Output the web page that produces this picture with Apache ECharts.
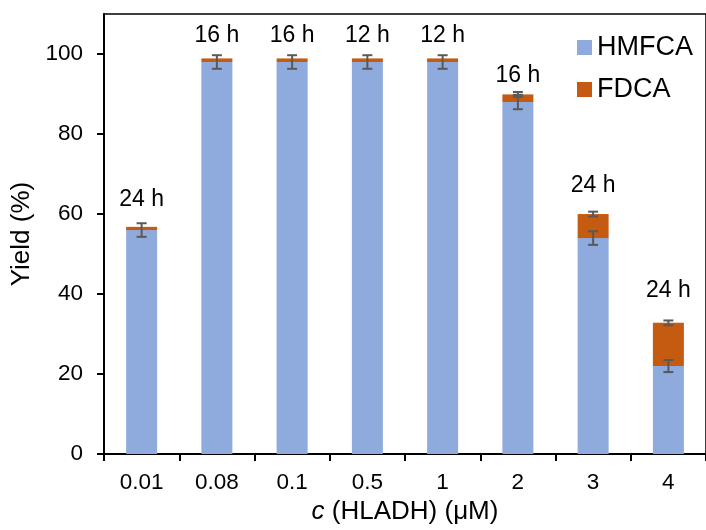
<!DOCTYPE html>
<html><head><meta charset="utf-8">
<script src="https://cdn.jsdelivr.net/npm/echarts@6/dist/echarts.min.js"></script>
<style>html,body{margin:0;padding:0;background:#fff}#c{width:706px;height:530px}</style>
</head><body><div id="c"></div>
<script>
var categories = ['0.01', '0.08', '0.1', '0.5', '1', '2', '3', '4'];
var hmfca = [56, 98, 98, 98, 98, 88, 54, 22];
var fdca = [0.8, 0.9, 0.9, 0.9, 0.9, 1.9, 6, 10.8];
var hmfcaErr = [1.7, 1.7, 1.7, 1.7, 1.7, 1.8, 1.7, 1.5];
var totalErr = [null, null, null, null, null, 0.6, 0.6, 0.6];
var times = ['24 h', '16 h', '16 h', '12 h', '12 h', '16 h', '24 h', '24 h'];
var yTicks = [0, 20, 40, 60, 80, 100];

var labelGap = [16, 11, 11, 11, 11, 7, 17, 21];
var FONT = 'Liberation Sans, Arial, sans-serif';

var errData = [];
for (var i = 0; i < categories.length; i++) {
  errData.push([i, hmfca[i] - hmfcaErr[i], hmfca[i] + hmfcaErr[i]]);
  if (totalErr[i] != null) {
    var t = hmfca[i] + fdca[i];
    errData.push([i, t - totalErr[i], t + totalErr[i]]);
  }
}

var fdcaData = fdca.map(function (v, i) {
  return { value: v, label: { show: true, position: 'top', distance: labelGap[i], formatter: times[i] } };
});

var chart = echarts.init(document.getElementById('c'));
chart.setOption({
  animation: false,
  textStyle: { fontFamily: FONT },
  grid: { left: 104, right: -2, top: 14, bottom: 72, show: true, borderColor: '#000', borderWidth: 1.5, backgroundColor: 'transparent' },
  legend: {
    orient: 'vertical', left: 572, top: 29, itemWidth: 15, itemHeight: 15, itemGap: 15,
    textStyle: { fontSize: 27, color: '#000', fontFamily: FONT },
    data: [{ name: 'HMFCA', icon: 'rect' }, { name: 'FDCA', icon: 'rect' }]
  },
  xAxis: {
    type: 'category', data: categories,
    axisLine: { lineStyle: { color: '#000', width: 2 } },
    axisTick: { show: true, inside: false, length: 7, lineStyle: { color: '#000', width: 2 } },
    axisLabel: { fontSize: 22.5, color: '#000', margin: 17, fontFamily: FONT },
    name: '{i|c} (HLADH) (μM)', nameLocation: 'middle', nameGap: 43,
    nameTextStyle: { fontSize: 26, color: '#000', fontFamily: FONT, rich: { i: { fontStyle: 'italic', fontSize: 26, fontFamily: FONT } } }
  },
  yAxis: {
    type: 'value', min: 0, max: 110, interval: 10,
    splitLine: { show: false },
    axisLine: { show: true, lineStyle: { color: '#000', width: 2 } },
    axisTick: { show: true, inside: false, length: 7, lineStyle: { color: '#000', width: 2 }, customValues: yTicks },
    axisLabel: { fontSize: 22.5, color: '#000', margin: 21, fontFamily: FONT, customValues: yTicks },
    name: 'Yield (%)', nameLocation: 'middle', nameGap: 62,
    nameTextStyle: { fontSize: 26, color: '#000', fontFamily: FONT }
  },
  series: [
    { name: 'HMFCA', type: 'bar', stack: 'y', barWidth: 31, data: hmfca, itemStyle: { color: '#8FAADC' } },
    { name: 'FDCA', type: 'bar', stack: 'y', barWidth: 31, data: fdcaData, itemStyle: { color: '#C55A11' },
      label: { fontSize: 23, color: '#000', fontFamily: FONT } },
    {
      type: 'custom', data: errData, z: 10,
      renderItem: function (params, api) {
        var x = api.value(0);
        var lo = api.coord([x, api.value(1)]);
        var hi = api.coord([x, api.value(2)]);
        var w = 5;
        var st = { stroke: '#595959', lineWidth: 2 };
        return { type: 'group', children: [
          { type: 'line', shape: { x1: lo[0], y1: lo[1], x2: hi[0], y2: hi[1] }, style: st },
          { type: 'line', shape: { x1: lo[0] - w, y1: lo[1], x2: lo[0] + w, y2: lo[1] }, style: st },
          { type: 'line', shape: { x1: hi[0] - w, y1: hi[1], x2: hi[0] + w, y2: hi[1] }, style: st }
        ] };
      }
    }
  ]
});
</script></body></html>
